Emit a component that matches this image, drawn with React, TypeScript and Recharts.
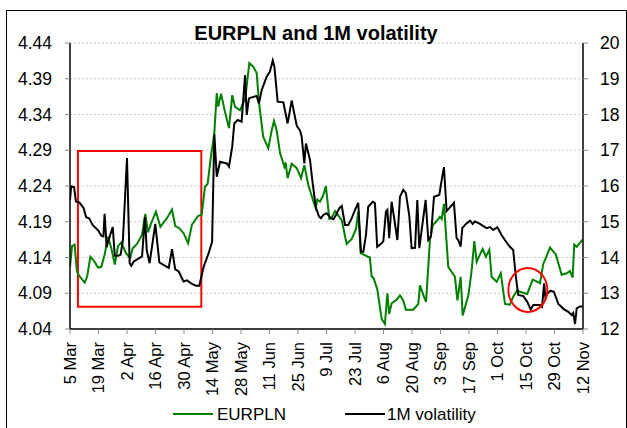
import { LineChart, Line, XAxis, YAxis, CartesianGrid, ReferenceArea, ReferenceDot } from 'recharts';

// days counted from 5 Mar
const eurplnPoints: [number, number][] = [
  [0, 4.127], [1.0, 4.156], [2.3, 4.158], [3.4, 4.12], [5.1, 4.112], [7.2, 4.105], [8.4, 4.113],
  [10.0, 4.141], [11.6, 4.136], [13.8, 4.126], [15.4, 4.127], [17.0, 4.144], [18.7, 4.169],
  [20.3, 4.153], [22.0, 4.13], [23.6, 4.156], [25.2, 4.161], [27.5, 4.146], [29.6, 4.139],
  [30.8, 4.153], [32.9, 4.159], [35.4, 4.172], [37.0, 4.201], [38.3, 4.175], [39.9, 4.188],
  [42.2, 4.204], [44.4, 4.183], [47.6, 4.195], [50.1, 4.207], [51.7, 4.184], [53.7, 4.181],
  [55.8, 4.174], [58.0, 4.16], [59.9, 4.186], [62.9, 4.198], [64.7, 4.2], [66.3, 4.239],
  [67.6, 4.243], [69.3, 4.283], [70.9, 4.314], [72.1, 4.37], [72.8, 4.351], [74.2, 4.369],
  [76.1, 4.344], [78.1, 4.321], [79.7, 4.367], [81.0, 4.351], [83.5, 4.346], [85.1, 4.356],
  [86.0, 4.361], [88.1, 4.412], [90.0, 4.407], [91.7, 4.398], [92.8, 4.358], [94.9, 4.309],
  [97.4, 4.293], [99.1, 4.318], [100.2, 4.331], [101.5, 4.318], [103.2, 4.286], [105.3, 4.267],
  [105.9, 4.273], [106.9, 4.251], [108.9, 4.271], [111.4, 4.265], [113.5, 4.251], [115.1, 4.269],
  [117.1, 4.241], [119.5, 4.219], [120.7, 4.209], [121.5, 4.221], [122.8, 4.218], [124.4, 4.227],
  [125.7, 4.24], [127.4, 4.194], [128.6, 4.196], [130.2, 4.205], [131.8, 4.199], [133.5, 4.192],
  [135.9, 4.159], [138.4, 4.166], [140.5, 4.18], [141.6, 4.204], [142.8, 4.146], [146.5, 4.141],
  [147.3, 4.14], [148.2, 4.113], [149.0, 4.112], [150.9, 4.096], [153.1, 4.054], [154.7, 4.047],
  [155.9, 4.09], [156.8, 4.061], [158.0, 4.076], [160.5, 4.081], [162.1, 4.087], [163.7, 4.08],
  [165.0, 4.067], [168.6, 4.067], [171.1, 4.075], [171.9, 4.101], [173.9, 4.085], [174.9, 4.078],
  [176.8, 4.164], [178.2, 4.185], [180.1, 4.191], [181.7, 4.197], [182.6, 4.194], [183.7, 4.215],
  [185.8, 4.127], [189.1, 4.113], [190.3, 4.08], [191.9, 4.113], [192.9, 4.059], [195.7, 4.087],
  [197.3, 4.122], [198.6, 4.163], [199.8, 4.134], [201.0, 4.142], [202.7, 4.152], [204.3, 4.141],
  [206.0, 4.151], [207.1, 4.113], [209.6, 4.106], [211.6, 4.118], [213.7, 4.075], [216.1, 4.074],
  [217.7, 4.085], [219.7, 4.094], [221.0, 4.092], [224.6, 4.089], [227.3, 4.109], [228.9, 4.107],
  [230.9, 4.104], [232.5, 4.131], [234.1, 4.142], [235.8, 4.154], [238.7, 4.144], [241.5, 4.116],
  [244.0, 4.118], [245.6, 4.121], [246.9, 4.112], [247.7, 4.158], [248.9, 4.155], [251.8, 4.165],
];

const volPoints: [number, number][] = [
  [0, 15.61], [0.6, 15.99], [2.0, 15.97], [2.9, 15.57], [4.6, 15.54], [6.7, 15.38], [7.9, 15.13],
  [9.5, 15.09], [11.1, 14.91], [13.8, 14.76], [15.4, 14.61], [16.4, 14.59], [17.0, 15.22],
  [18.0, 14.29], [19.5, 14.59], [21.0, 14.85], [22.0, 14.05], [23.6, 14.05], [24.9, 14.08],
  [26.0, 14.5], [28.0, 16.78], [29.3, 13.84], [30.1, 13.77], [31.3, 13.89], [35.4, 14.03],
  [36.8, 15.13], [37.7, 14.21], [39.1, 13.84], [41.9, 14.94], [43.9, 13.86], [48.5, 13.71],
  [50.1, 14.23], [51.7, 13.67], [53.4, 13.61], [55.8, 13.33], [57.5, 13.36], [59.9, 13.26],
  [61.9, 13.21], [63.5, 13.21], [65.7, 13.75], [68.1, 14.12], [69.8, 14.44], [70.9, 17.45],
  [72.1, 16.26], [73.7, 16.68], [77.0, 16.63], [78.1, 16.54], [79.7, 17.1], [80.7, 17.75],
  [82.4, 17.85], [84.3, 17.8], [86.0, 19.1], [86.8, 17.99], [87.9, 18.45], [89.3, 18.48],
  [91.7, 18.52], [92.8, 18.31], [94.2, 18.69], [96.6, 19.06], [98.2, 19.2], [99.6, 19.51],
  [100.4, 19.34], [102.0, 18.36], [104.8, 18.34], [106.9, 17.75], [108.9, 18.39], [111.4, 17.68],
  [113.0, 17.55], [113.8, 17.38], [115.1, 16.63], [115.9, 17.19], [117.9, 16.73], [119.0, 16.17],
  [120.7, 15.42], [122.3, 15.15], [123.3, 15.1], [124.4, 15.19], [126.1, 15.24], [128.1, 15.1],
  [129.4, 15.07], [130.7, 15.19], [132.3, 15.38], [133.5, 15.44], [135.1, 14.91], [136.7, 14.91],
  [138.4, 15.1], [140.0, 15.33], [141.6, 15.53], [142.9, 14.16], [144.1, 14.16], [145.4, 14.63],
  [146.5, 15.42], [148.7, 15.56], [149.8, 15.52], [150.9, 14.3], [153.1, 14.4], [153.9, 14.45],
  [155.2, 15.28], [155.9, 15.33], [156.8, 14.54], [158.0, 15.56], [159.1, 15.15], [160.8, 14.49],
  [162.1, 15.7], [163.7, 15.89], [165.0, 15.8], [166.7, 15.15], [167.8, 14.26], [169.5, 14.27],
  [170.6, 15.61], [171.6, 14.26], [173.2, 14.96], [174.7, 15.61], [176.0, 14.49], [177.3, 14.59],
  [178.8, 15.7], [181.4, 15.75], [182.6, 16.17], [183.7, 16.53], [185.0, 15.3], [186.3, 15.38],
  [188.6, 15.53], [189.9, 14.54], [190.7, 14.49], [191.9, 14.3], [192.7, 14.82], [194.5, 14.94],
  [196.5, 15.03], [197.8, 14.94], [198.9, 15.01], [201.4, 14.94], [203.0, 14.88], [204.7, 14.82],
  [206.3, 14.85], [207.9, 14.77], [209.9, 14.85], [212.0, 14.63], [214.2, 14.44], [216.1, 14.3],
  [217.7, 14.21], [219.1, 13.42], [220.2, 12.95], [222.7, 12.92], [224.6, 12.76], [226.3, 12.55],
  [227.6, 12.67], [230.9, 12.67], [231.9, 12.62], [232.9, 13.28], [233.5, 12.9], [234.5, 12.99],
  [236.1, 13.07], [237.7, 13.04], [239.9, 12.7], [242.7, 12.55], [244.8, 12.48], [246.4, 12.39],
  [247.2, 12.45], [248.1, 12.14], [248.9, 12.58], [250.5, 12.63], [251.8, 12.63],
];

const dateLabels = [
  '5 Mar', '19 Mar', '2 Apr', '16 Apr', '30 Apr', '14 May', '28 May', '11 Jun', '25 Jun', '9 Jul',
  '23 Jul', '6 Aug', '20 Aug', '3 Sep', '17 Sep', '1 Oct', '15 Oct', '29 Oct', '12 Nov',
];
const dateTicks = dateLabels.map((_, i) => i * 14);
const eurTicks = [4.04, 4.09, 4.14, 4.19, 4.24, 4.29, 4.34, 4.39, 4.44];
const volTicks = [12, 13, 14, 15, 16, 17, 18, 19, 20];

// highlighted zones (box around Mar-Apr, circle around mid Oct)
const boxDays = [3.9, 64.5];
const boxLevels = [4.071, 4.289];
const circleAt = [224.9, 4.0946];

const FONT = '"Liberation Sans", Arial, sans-serif';

const eurData = eurplnPoints.map(([d, v]) => ({ d, v }));
const volData = volPoints.map(([d, v]) => ({ d, v }));

// eslint-disable-next-line @typescript-eslint/no-explicit-any
function DateTick({ x, y, payload }: any) {
  const label = dateLabels[Math.round(payload.value / 14)] ?? '';
  return (
    <text
      x={x}
      y={y}
      transform={`rotate(-90 ${x} ${y})`}
      textAnchor="end"
      dy="0.36em"
      fontSize={16.5}
      fill="#000"
    >
      {label}
    </text>
  );
}

// eslint-disable-next-line @typescript-eslint/no-explicit-any
function Ring({ cx, cy }: any) {
  return <ellipse cx={cx} cy={cy} rx={19.5} ry={22} fill="none" stroke="#ff0000" strokeWidth={2} />;
}

export default function App() {
  return (
    <div
      style={{
        position: 'absolute',
        left: 0,
        top: 0,
        width: 627,
        height: 428,
        overflow: 'hidden',
        background: '#fff',
        fontFamily: FONT,
      }}
    >
      <div
        style={{
          position: 'absolute',
          left: 6,
          top: 10,
          width: 619,
          height: 500,
          border: '1px solid #000',
        }}
      />
      <LineChart
        width={627}
        height={428}
        margin={{ top: 43, right: 0, bottom: 39, left: 0 }}
        style={{ position: 'absolute', left: 0, top: 0, fontFamily: FONT }}
      >
        <CartesianGrid yAxisId="left" vertical={false} stroke="#c8c8c8" strokeDasharray="2 2" />
        <XAxis
          dataKey="d"
          type="number"
          domain={[0, 252]}
          ticks={dateTicks}
          interval={0}
          height={60}
          axisLine={{ stroke: '#000', strokeWidth: 1.5 }}
          tickLine={{ stroke: '#888' }}
          tickSize={5}
          tickMargin={8}
          tick={<DateTick />}
          allowDataOverflow
        />
        <YAxis
          yAxisId="left"
          domain={[4.04, 4.44]}
          ticks={eurTicks}
          interval={0}
          width={70}
          axisLine={{ stroke: '#000', strokeWidth: 1.5 }}
          tickLine={{ stroke: '#888' }}
          tickSize={5}
          tickMargin={13}
          tickFormatter={(v: number) => v.toFixed(2)}
          tick={{ fill: '#000', fontSize: 17.5 }}
          allowDataOverflow
        />
        <YAxis
          yAxisId="right"
          orientation="right"
          domain={[12, 20]}
          ticks={volTicks}
          interval={0}
          width={44}
          axisLine={{ stroke: '#000', strokeWidth: 1.5 }}
          tickLine={{ stroke: '#888' }}
          tickSize={5}
          tickMargin={12}
          tick={{ fill: '#000', fontSize: 17.5 }}
          allowDataOverflow
        />
        <Line
          yAxisId="left"
          data={eurData}
          dataKey="v"
          type="linear"
          stroke="#008000"
          strokeWidth={2}
          dot={false}
          isAnimationActive={false}
        />
        <Line
          yAxisId="right"
          data={volData}
          dataKey="v"
          type="linear"
          stroke="#000000"
          strokeWidth={2}
          dot={false}
          isAnimationActive={false}
        />
        <ReferenceArea
          yAxisId="left"
          x1={boxDays[0]}
          x2={boxDays[1]}
          y1={boxLevels[0]}
          y2={boxLevels[1]}
          fill="none"
          fillOpacity={0}
          stroke="#ff0000"
          strokeWidth={2}
        />
        <ReferenceDot yAxisId="left" x={circleAt[0]} y={circleAt[1]} shape={<Ring />} />
      </LineChart>
      <svg
        width={627}
        height={428}
        style={{ position: 'absolute', left: 0, top: 0, pointerEvents: 'none', fontFamily: FONT }}
      >
        <text x={316} y={39.5} textAnchor="middle" fontWeight="bold" fontSize={20} fill="#000">
          EURPLN and 1M volatility
        </text>
        <line x1={173} x2={213} y1={414} y2={414} stroke="#008000" strokeWidth={2} />
        <text x={217} y={420} fontSize={17} fill="#000">EURPLN</text>
        <line x1={345} x2={385} y1={414} y2={414} stroke="#000" strokeWidth={2} />
        <text x={387} y={420} fontSize={17} fill="#000">1M volatility</text>
      </svg>
    </div>
  );
}
